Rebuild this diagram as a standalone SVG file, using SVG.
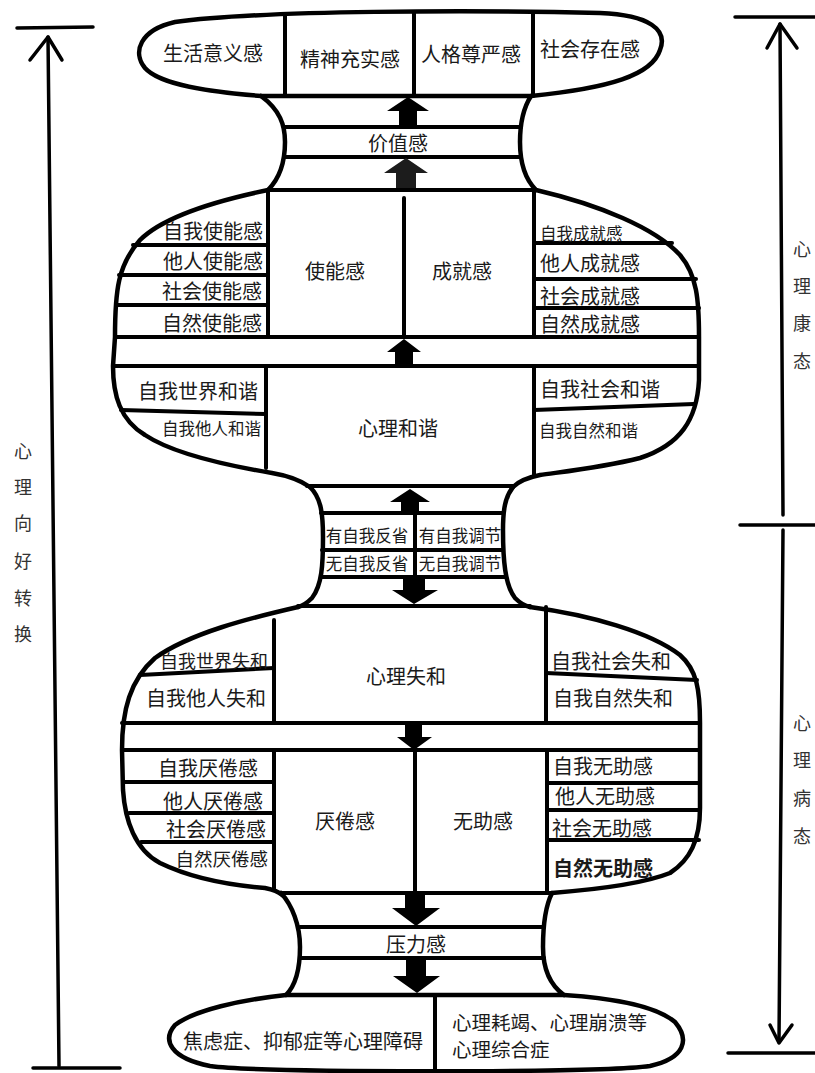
<svg xmlns="http://www.w3.org/2000/svg" width="815" height="1073" viewBox="0 0 815 1073">
<style>
.o{fill:none;stroke:#000;stroke-width:4.5;stroke-linecap:round;stroke-linejoin:round}
.l{fill:none;stroke:#000;stroke-width:4;stroke-linecap:round}
.s{fill:none;stroke:#000;stroke-width:3.5;stroke-linecap:round;stroke-linejoin:round}
.a{fill:#000;stroke:none}
text{font-family:"Noto Sans CJK SC","Noto Sans",sans-serif;font-size:20px;fill:#1a1a1a;dominant-baseline:central}
.m{text-anchor:middle}
.e{text-anchor:end}
.sm{font-size:16.5px}
.side{font-size:18px;text-anchor:middle;fill:#333}
</style>
<rect width="815" height="1073" fill="#fff"/>

<g id="scale-left">
<line class="s" x1="17" y1="28" x2="93" y2="27"/>
<line class="s" x1="48" y1="37" x2="59" y2="1066"/>
<polyline class="s" points="30,60 48,37 62,60"/>
<line class="s" x1="33" y1="1068" x2="120" y2="1068"/>
<text class="side" x="23" y="450">心</text>
<text class="side" x="23" y="486">理</text>
<text class="side" x="23" y="522">向</text>
<text class="side" x="23" y="560">好</text>
<text class="side" x="23" y="597">转</text>
<text class="side" x="23" y="633">换</text>
</g>

<g id="scale-right">
<line class="s" x1="735" y1="17" x2="815" y2="17"/>
<line class="s" x1="780" y1="24" x2="783" y2="515"/>
<polyline class="s" points="767,48 780,24 797,48"/>
<line class="s" x1="740" y1="525" x2="815" y2="525"/>
<line class="s" x1="783" y1="530" x2="779" y2="1042"/>
<polyline class="s" points="770,1025 779,1043 792,1025"/>
<line class="s" x1="728" y1="1053" x2="815" y2="1053"/>
<text class="side" x="802" y="248">心</text>
<text class="side" x="802" y="285">理</text>
<text class="side" x="802" y="322">康</text>
<text class="side" x="802" y="360">态</text>
<text class="side" x="802" y="722">心</text>
<text class="side" x="802" y="759">理</text>
<text class="side" x="802" y="797">病</text>
<text class="side" x="802" y="835">态</text>
</g>

<g id="cap">
<path class="o" d="M261,96 C210,92 160,85 145,68 C132,52 140,30 175,22 C260,10 480,10 600,13 C650,15 668,30 660,50 C652,75 610,88 531,96 Z"/>
<line class="l" x1="285" y1="14" x2="285" y2="96"/>
<line class="l" x1="414" y1="13" x2="414" y2="96"/>
<line class="l" x1="533" y1="14" x2="533" y2="96"/>
<text class="m" x="213" y="52">生活意义感</text>
<text class="m" x="350" y="58">精神充实感</text>
<text class="m" x="471" y="53">人格尊严感</text>
<text class="m" x="590" y="48">社会存在感</text>
</g>

<g id="neck-value">
<path class="o" d="M261,96 C280,110 285,125 285,142 C285,165 278,180 268,190"/>
<path class="o" d="M531,96 C522,110 520,125 520,142 C520,165 526,180 536,190"/>
<line class="l" x1="284" y1="127" x2="521" y2="127"/>
<line class="l" x1="284" y1="157" x2="521" y2="157"/>
<text class="m" x="398" y="142">价值感</text>
</g>

<g id="body-healthy">
<path class="o" d="M268,190 C220,200 165,215 140,240 C118,265 115,290 115,337 L113,366 C113,395 120,420 145,435 C175,455 230,466 272,473 C290,476 300,480 310,487"/>
<path class="o" d="M536,190 C600,205 655,228 680,255 C697,275 699,300 699,337 L699,380 C697,420 680,445 640,458 C600,468 560,472 540,475 C525,478 518,482 513,487"/>
<line class="l" x1="268" y1="190" x2="536" y2="190"/>
<line class="l" x1="268" y1="190" x2="268" y2="337"/>
<line class="l" x1="534" y1="190" x2="534" y2="337"/>
<line class="l" x1="133" y1="245" x2="268" y2="245"/>
<line class="l" x1="119" y1="275" x2="268" y2="275"/>
<line class="l" x1="116" y1="305" x2="268" y2="305"/>
<line class="l" x1="534" y1="243" x2="672" y2="243"/>
<line class="l" x1="534" y1="279" x2="696" y2="279"/>
<line class="l" x1="534" y1="308" x2="699" y2="308"/>
<line class="l" x1="115" y1="337" x2="699" y2="337"/>
<line class="l" x1="113" y1="366" x2="699" y2="366"/>
<line class="l" x1="266" y1="366" x2="266" y2="468"/>
<line class="l" x1="534" y1="366" x2="534" y2="475"/>
<line class="l" x1="121" y1="410" x2="266" y2="414"/>
<line class="l" x1="534" y1="410" x2="694" y2="404"/>
<text class="e" x="263" y="230">自我使能感</text>
<text class="e" x="263" y="260">他人使能感</text>
<text class="e" x="262" y="290">社会使能感</text>
<text class="e" x="262" y="322">自然使能感</text>
<text class="m" x="335" y="270">使能感</text>
<text class="m" x="462" y="270">成就感</text>
<text class="sm" x="540" y="233">自我成就感</text>
<text x="540" y="262">他人成就感</text>
<text x="540" y="295">社会成就感</text>
<text x="540" y="323">自然成就感</text>
<text class="e" x="258" y="390">自我世界和谐</text>
<text class="e sm" x="261" y="428">自我他人和谐</text>
<text class="m" x="398" y="427">心理和谐</text>
<text x="540" y="388">自我社会和谐</text>
<text class="sm" x="539" y="430">自我自然和谐</text>
</g>

<g id="neck-reflect">
<path class="o" d="M310,487 C320,497 323,510 323,537 C323,565 322,585 312,598 C306,604 302,606 298,607"/>
<path class="o" d="M513,487 C505,497 503,510 503,530 C503,560 505,585 515,598 C520,603 525,606 530,607"/>
<line class="l" x1="307" y1="486" x2="513" y2="486"/>
<line class="l" x1="321" y1="513" x2="503" y2="513"/>
<line class="l" x1="322" y1="550" x2="503" y2="550"/>
<line class="l" x1="322" y1="577" x2="505" y2="577"/>
<line class="l" x1="415" y1="513" x2="415" y2="577"/>
<text class="m sm" x="367" y="535">有自我反省</text>
<text class="m sm" x="460" y="535">有自我调节</text>
<text class="m sm" x="367" y="563">无自我反省</text>
<text class="m sm" x="460" y="563">无自我调节</text>
</g>

<g id="body-sick">
<path class="o" d="M298,607 C250,618 190,633 155,658 C130,680 122,710 122,750 L123,790 C125,820 135,850 160,863 C195,880 240,886 265,888 C275,890 280,893 282,895"/>
<path class="o" d="M530,607 C590,615 650,632 680,655 C697,670 700,690 700,723 L700,808 C700,840 690,860 670,873 C640,885 590,890 552,893"/>
<line class="l" x1="298" y1="606" x2="530" y2="606"/>
<line class="l" x1="274" y1="620" x2="274" y2="723"/>
<line class="l" x1="546" y1="607" x2="546" y2="723"/>
<line class="l" x1="140" y1="675" x2="274" y2="668"/>
<line class="l" x1="546" y1="673" x2="697" y2="680"/>
<line class="l" x1="122" y1="723" x2="700" y2="723"/>
<line class="l" x1="122" y1="750" x2="700" y2="750"/>
<line class="l" x1="274" y1="750" x2="274" y2="890"/>
<line class="l" x1="547" y1="750" x2="547" y2="892"/>
<line class="l" x1="123" y1="782" x2="274" y2="782"/>
<line class="l" x1="129" y1="813" x2="274" y2="813"/>
<line class="l" x1="141" y1="842" x2="274" y2="842"/>
<line class="l" x1="547" y1="783" x2="700" y2="783"/>
<line class="l" x1="547" y1="810" x2="700" y2="810"/>
<line class="l" x1="547" y1="840" x2="699" y2="840"/>
<text class="e" x="268" y="660" style="font-size:18px">自我世界失和</text>
<text class="e" x="266" y="697">自我他人失和</text>
<text class="m" x="406" y="675">心理失和</text>
<text x="551" y="660">自我社会失和</text>
<text x="553" y="697">自我自然失和</text>
<text class="e" x="258" y="767">自我厌倦感</text>
<text class="e" x="263" y="800">他人厌倦感</text>
<text class="e" x="266" y="828">社会厌倦感</text>
<text class="e" x="268" y="858" style="font-size:18.5px">自然厌倦感</text>
<text class="m" x="345" y="820">厌倦感</text>
<text class="m" x="483" y="820">无助感</text>
<text x="553" y="765">自我无助感</text>
<text x="555" y="795">他人无助感</text>
<text x="552" y="827">社会无助感</text>
<text x="553" y="867" style="font-weight:bold">自然无助感</text>
</g>

<g id="neck-stress">
<path class="o" d="M281,893 C292,905 300,925 300,947 C300,970 296,985 286,995"/>
<path class="o" d="M552,893 C546,905 543,925 543,947 C543,970 550,985 564,995"/>
<line class="l" x1="280" y1="893" x2="552" y2="893"/>
<line class="l" x1="300" y1="927" x2="543" y2="927"/>
<line class="l" x1="300" y1="958" x2="544" y2="958"/>
<text class="m" x="416" y="943">压力感</text>
</g>

<g id="base">
<path class="o" d="M286,995 C240,1000 195,1010 175,1025 C162,1040 170,1058 210,1066 C260,1073 600,1073 650,1066 C685,1058 690,1040 675,1022 C655,1005 610,998 564,995 Z"/>
<line class="l" x1="435" y1="995" x2="435" y2="1071"/>
<text x="183" y="1040">焦虑症、抑郁症等心理障碍</text>
<text x="452" y="1021" style="font-size:19.5px">心理耗竭、心理崩溃等</text>
<text x="452" y="1048" style="font-size:19.5px">心理综合症</text>
</g>

<g id="connectors">
<path class="a" d="M408,97 L429,111 L417,111 L417,127 L399,127 L399,111 L387,111 Z"/>
<path class="a" d="M406,158 L428,173 L416,173 L416,188 L396,188 L396,173 L384,173 Z" style="fill:#1c1c1c"/>
<line class="l" x1="404" y1="198" x2="404" y2="337"/>
<path class="a" d="M404,339 L421,352 L413,352 L413,366 L395,366 L395,352 L387,352 Z"/>
<path class="a" d="M410,489 L430,502 L419,502 L419,513 L401,513 L401,502 L390,502 Z"/>
<path class="a" d="M403,578 L425,578 L425,590 L438,590 L414,604 L392,590 L403,590 Z"/>
<path class="a" d="M405,725 L422,725 L422,737 L432,737 L414,750 L397,737 L405,737 Z"/>
<line class="l" x1="415" y1="750" x2="415" y2="893"/>
<path class="a" d="M405,893 L425,893 L425,908 L440,908 L416,926 L392,908 L405,908 Z"/>
<path class="a" d="M406,960 L426,960 L426,976 L440,976 L417,993 L393,976 L406,976 Z"/>
</g>
</svg>
